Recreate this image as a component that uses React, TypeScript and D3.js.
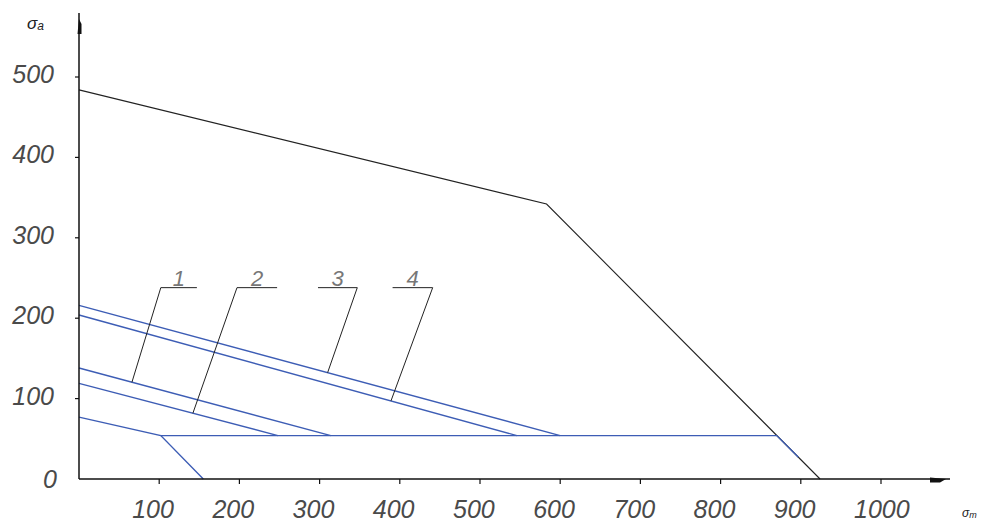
import React from "react";
import * as d3 from "d3";

// ---- data ----
const xTicks = [100, 200, 300, 400, 500, 600, 700, 800, 900, 1000];
const yTicks = [0, 100, 200, 300, 400, 500];

// limit (black) polyline
const limitX = [0, 583, 924];
const limitY = [484, 342, 0];

// numbered blue lines: start on the σa axis, end on the plateau level
const seriesNames = ["1", "2", "3", "4"];
const seriesStartY = [138, 119, 216, 204];
const seriesEndX = [314, 248, 600, 546];
const plateauLevel = 54;

// lowest blue polyline
const bottomX = [0, 102, 155];
const bottomY = [77, 54, 0];

// plateau polyline (horizontal, then along the limit line)
const plateauX = [102, 870, 897];
const plateauY = [54, 54, 27];

// leader annotations
const leaderAnchorX = [66, 142, 310, 389];
const leaderElbowX = [102, 197, 347, 441];
const leaderShelf = [45, 50, -49, -50];
const leaderTopY = 238;

const W = 985;
const H = 522;

export default function App() {
  const x = d3.scaleLinear().domain([0, 1000]).range([79, 881]);
  const y = d3.scaleLinear().domain([0, 500]).range([479, 77]);
  const line = d3
    .line<[number, number]>()
    .x((d) => x(d[0]))
    .y((d) => y(d[1]));

  const zip = (a: number[], b: number[]) => a.map((v, i) => [v, b[i]] as [number, number]);

  const blue = "#3d5db5";
  const tickFont = "'Liberation Sans', Arial, sans-serif";

  const seriesY = (i: number, xv: number) =>
    seriesStartY[i] + ((plateauLevel - seriesStartY[i]) * xv) / seriesEndX[i];

  return (
    <svg
      width={W}
      height={H}
      style={{ position: "absolute", left: 0, top: 0, background: "#fff" }}
    >
      {/* limit line */}
      <path d={line(zip(limitX, limitY)) || ""} fill="none" stroke="#222" strokeWidth={1.1} />

      {/* blue lines */}
      {seriesNames.map((n, i) => (
        <path
          key={n}
          d={line([[0, seriesStartY[i]], [seriesEndX[i], plateauLevel]]) || ""}
          fill="none"
          stroke={blue}
          strokeWidth={1.4}
        />
      ))}
      <path d={line(zip(bottomX, bottomY)) || ""} fill="none" stroke={blue} strokeWidth={1.4} />
      <path d={line(zip(plateauX, plateauY)) || ""} fill="none" stroke={blue} strokeWidth={1.3} />

      {/* leaders */}
      {seriesNames.map((n, i) => {
        const ax = x(leaderAnchorX[i]);
        const ay = y(seriesY(i, leaderAnchorX[i]));
        const ex = x(leaderElbowX[i]);
        const ey = y(leaderTopY);
        const sx = x(leaderElbowX[i] + leaderShelf[i]);
        return (
          <g key={"l" + n}>
            <polyline
              points={`${ax},${ay} ${ex},${ey} ${sx},${ey}`}
              fill="none"
              stroke="#222"
              strokeWidth={1}
            />
            <text
              x={(ex + sx) / 2}
              y={ey - 2}
              textAnchor="middle"
              fontFamily={tickFont}
              fontStyle="italic"
              fontSize={22}
              fill="#777"
            >
              {n}
            </text>
          </g>
        );
      })}

      {/* axes */}
      <line x1={x(0)} y1={y(0)} x2={x(0)} y2={13} stroke="#111" strokeWidth={1.5} />
      <line x1={x(0)} y1={y(0)} x2={950} y2={y(0)} stroke="#111" strokeWidth={1.5} />
      <polygon points={`${x(0) - 1.5},34 ${x(0) + 2.5},34 ${x(0) + 2.5},24 ${x(0)},19`} fill="#111" />
      <polygon points={`930,${y(0) - 1.5} 930,${y(0) + 3.5} 940,${y(0) + 3.5} 946,${y(0)}`} fill="#111" />

      {/* x ticks */}
      {xTicks.map((t) => (
        <g key={"x" + t}>
          <line x1={x(t)} x2={x(t)} y1={y(0)} y2={y(0) + 5} stroke="#111" strokeWidth={1.2} />
          <text
            x={x(t) - 27}
            y={518}
            fontFamily={tickFont}
            fontStyle="italic"
            fontSize={25}
            fill="#4a4a4a"
          >
            {t}
          </text>
        </g>
      ))}

      {/* y ticks */}
      {yTicks.map((t) => (
        <g key={"y" + t}>
          {t > 0 && (
            <line x1={x(0) - 4} x2={x(0)} y1={y(t)} y2={y(t)} stroke="#111" strokeWidth={1.2} />
          )}
          <text
            x={t === 0 ? 57 : 54}
            y={y(t) + (t === 0 ? 9 : 6)}
            textAnchor="end"
            fontFamily={tickFont}
            fontStyle="italic"
            fontSize={25}
            fill="#4a4a4a"
          >
            {t}
          </text>
        </g>
      ))}

      {/* axis titles */}
      <text x={27} y={29} fontFamily={tickFont} fontStyle="italic" fontSize={17} fill="#222">
        σ<tspan fontSize={12} dy={1}>a</tspan>
      </text>
      <text x={962} y={517} fontFamily={tickFont} fontStyle="italic" fontSize={12} fill="#222">
        σ<tspan fontSize={9} dy={1}>m</tspan>
      </text>
    </svg>
  );
}
